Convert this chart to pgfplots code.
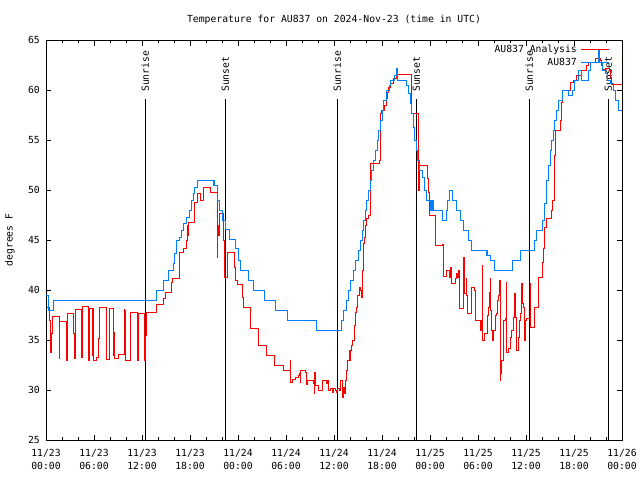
\documentclass[border=0pt]{standalone}
\usepackage{pgfplots}
\pgfplotsset{compat=1.18}
\usepackage{fontspec}
\setmainfont{DejaVu Sans Mono}
\definecolor{obsred}{RGB}{255,0,0}
\definecolor{anablue}{RGB}{0,128,255}
\newcommand{\gfont}{\fontsize{9.8}{13}\selectfont}

\pgfplotstableread{
h v
0.15 38.3
0.45 37.0
0.6 33.8
0.65 35.7
0.8 37.4
1.65 33.2
1.7 36.9
2.55 33.0
2.65 35.3
2.75 37.7
3.5 35.7
3.55 33.2
3.65 38.1
4.5 33.3
4.55 38.4
5.3 35.8
5.35 33.0
5.45 38.2
5.8 33.5
5.85 38.2
5.9 33.0
6.3 33.3
6.6 35.2
6.75 38.3
7.6 33.1
7.9 35.2
8.0 38.2
8.5 33.5
8.55 35.8
8.6 33.2
9.1 33.6
9.8 38.1
9.85 34.0
9.9 38.0
9.95 33.0
10.6 37.8
11.5 33.0
11.55 37.7
12.3 33.0
12.45 35.5
12.6 37.8
13.8 38.6
14.7 39.2
14.9 39.8
15.7 40.8
15.8 41.2
16.75 43.8
17.2 44.2
17.6 45.0
17.65 46.5
17.7 45.5
17.8 46.8
18.6 48.8
19.0 49.7
19.3 49.0
19.67 50.3
20.6 49.8
21.4 43.3
21.46 46.5
21.58 45.5
21.7 47.7
22.25 45.0
22.375 41.3
22.67 43.8
23.54 43.3
23.6 42.3
23.75 41.0
23.92 40.6
24.54 39.3
24.67 38.3
25.5 36.2
26.6 34.5
27.58 33.5
28.5 32.5
29.67 32.0
30.5 33.0
30.58 30.8
30.83 31.1
31.125 31.3
31.54 31.5
31.67 31.7
31.75 30.8
31.83 32.0
32.375 31.8
32.5 30.6
32.67 31.0
33.42 30.7
33.54 29.7
33.6 31.8
33.71 30.5
34.04 30.0
34.54 31.0
35.08 30.7
35.2 31.0
35.29 30.0
35.58 30.2
35.83 29.8
35.92 30.2
36.125 30.0
36.33 29.8
36.46 30.2
36.67 30.0
36.83 31.0
37.0 29.3
37.17 30.3
37.29 29.7
37.46 31.0
37.58 32.0
37.67 33.0
37.875 34.0
38.0 33.0
38.08 34.0
38.2 34.5
38.33 35.0
38.5 36.5
38.625 37.8
38.83 38.3
38.96 39.5
39.125 40.3
39.25 40.0
39.46 39.3
39.58 42.0
39.67 44.7
39.79 45.3
39.96 46.5
40.08 47.2
40.3 47.5
40.6 52.7
41.67 53.0
41.75 57.7
41.96 58.0
42.29 58.5
42.5 59.2
42.67 59.8
42.79 60.3
43.0 60.7
43.42 61.2
43.83 61.6
45.7 57.7
46.6 50.0
46.7 52.5
47.67 51.2
47.79 49.8
47.92 47.5
48.71 44.5
49.58 44.6
49.67 41.4
50.08 42.0
50.42 41.3
50.58 42.3
50.67 41.3
50.71 40.7
51.125 41.2
51.33 41.7
51.46 41.3
51.54 42.0
51.625 40.5
51.71 38.2
52.17 43.3
52.25 39.7
52.5 41.2
52.58 39.5
52.67 37.7
53.21 40.3
53.54 40.0
53.67 37.0
54.25 36.0
54.42 37.0
54.55 42.5
54.62 35.0
54.75 35.7
55.17 37.5
55.29 38.3
55.42 39.8
55.5 41.2
55.58 38.0
55.71 36.0
55.83 35.0
55.92 36.0
56.125 37.5
56.33 37.7
56.46 39.0
56.54 39.5
56.67 41.0
56.75 31.0
56.83 31.7
56.96 33.0
57.17 37.0
57.375 37.2
57.55 40.8
57.62 33.8
57.83 34.2
58.0 35.3
58.2 36.0
58.42 37.3
58.54 39.7
58.7 37.3
58.83 34.0
59.0 35.3
59.125 37.0
59.25 37.7
59.375 38.3
59.46 40.7
59.58 38.7
59.67 38.3
59.79 35.0
59.875 37.0
60.08 37.2
60.5 40.7
60.55 36.3
61.04 38.3
61.54 41.3
62.04 42.8
62.17 44.2
62.3 46.3
62.58 47.2
63.2 48.0
63.33 49.0
63.5 53.5
63.625 56.0
64.25 57.0
64.46 58.8
64.58 60.0
65.5 60.8
65.92 61.0
66.33 61.5
66.96 62.0
67.58 62.5
67.79 62.8
68.625 63.2
69.25 63.0
69.46 62.5
69.6 62.1
69.875 62.2
70.42 62.0
70.58 61.3
70.71 60.6
71.96 60.6
}\redtab

\pgfplotstableread{
h v
0 39.5
0.3 38.0
1.0 39.0
13.8 40
14.7 41
15.3 42
15.9 42.7
16.1 43.7
16.3 45
16.75 45.3
17.0 46
17.2 46.7
17.6 47.3
18.0 48
18.2 49
18.4 49.7
18.6 50.3
19.0 51
20.9 50.5
21.0 51
21.1 50.5
21.5 49
21.75 48
22.1 47
22.5 46.1
22.9 45.1
23.75 44.2
24.1 43
24.3 42
25.3 41
25.9 40
27.3 39
28.7 38
30.2 37
33.8 36
36.9 37
37.2 38
37.5 39
37.8 40
38.1 41
38.4 42
38.7 43
39.0 44
39.3 45
39.5 46
39.7 47
39.9 48
40.1 49
40.3 50
40.5 51
40.7 52
40.9 53
41.2 54
41.4 55
41.6 56
41.8 57
42.0 58
42.2 59
42.6 60
42.9 60.5
43.1 61
43.5 61.5
43.75 62.2
43.9 61
45.0 60.5
45.3 59.7
45.5 58.7
45.7 57.7
45.9 56.3
46.1 55
46.25 54
46.4 53
46.7 52
47.0 51.3
47.3 50
47.5 49
48.0 48
48.1 49
48.2 48
48.3 49
48.4 48
49.5 47
50.1 48
50.2 49
50.4 50
50.8 49
51.25 48
51.75 47
52.2 46
52.8 45
53.2 44
55.1 43.5
55.15 44
55.2 43.5
55.5 43
56.0 42
58.3 43
59.25 44
61.0 45
61.3 46
62.0 47
62.25 48.7
62.6 51
62.8 52.5
63.0 54
63.2 55
63.4 56
63.6 57
63.8 58
64.0 59
64.5 60
65.3 59.5
65.8 60
66.1 61
66.5 62
66.96 61
67.8 62
68.0 62.8
69.0 64
69.15 62.8
69.5 62
69.9 61.7
70.2 61
70.5 60.7
70.9 60
71.2 59
71.5 58
71.96 58
}\bluetab

\begin{document}
\begin{tikzpicture}
\useasboundingbox (-46bp,-40bp) rectangle (594bp,440bp);
\begin{axis}[
  at={(0,0)}, anchor=south west,
  scale only axis, width=576bp, height=400bp,
  xmin=0, xmax=72, ymin=25, ymax=65,
  xtick={0,6,...,72},
  xticklabels={{11/23\\00:00},{11/23\\06:00},{11/23\\12:00},{11/23\\18:00},
               {11/24\\00:00},{11/24\\06:00},{11/24\\12:00},{11/24\\18:00},
               {11/25\\00:00},{11/25\\06:00},{11/25\\12:00},{11/25\\18:00},
               {11/26\\00:00}},
  minor x tick num=2,
  ytick={25,30,...,65},
  yticklabels={25,30,35,40,45,50,55,60,65},
  tick align=inside,
  major tick length=5.5bp, minor tick length=3bp,
  tick style={black, line width=0.8bp},
  axis line style={line width=0.9bp},
  every tick label/.append style={font=\gfont, inner sep=0pt},
  xticklabel style={align=center, anchor=north, yshift=-9bp},
  yticklabel style={anchor=east, xshift=-6bp},
  title={Temperature for AU837 on 2024-Nov-23 (time in UTC)},
  every axis title shift=0pt,
  title style={at={(0.5,1)}, anchor=center, yshift=20bp, font=\gfont, inner sep=0pt},
  legend style={draw=none, fill=none, at={(1,1)}, anchor=north east,
    xshift=-12bp, yshift=-4bp, inner sep=0pt, font=\gfont,
    nodes={inner sep=1bp, text height=7.5bp, text depth=2bp},
    row sep=1bp, column sep=3bp},
  legend cell align=right,
  legend plot pos=right,
  legend image code/.code={\draw[#1, line width=1bp] (0bp,0bp) -- (28bp,0bp);},
]
\addplot[black, line width=0.8bp, forget plot] coordinates {(12.41,25) (12.41,59.1)};
\addplot[black, line width=0.8bp, forget plot] coordinates {(22.41,25) (22.41,59.1)};
\addplot[black, line width=0.8bp, forget plot] coordinates {(36.41,25) (36.41,59.1)};
\addplot[black, line width=0.8bp, forget plot] coordinates {(46.29,25) (46.29,59.1)};
\addplot[black, line width=0.8bp, forget plot] coordinates {(60.41,25) (60.41,59.1)};
\addplot[black, line width=0.8bp, forget plot] coordinates {(70.29,25) (70.29,59.1)};
\node[rotate=90, anchor=west, inner sep=0pt, font=\gfont] at (axis cs:12.41,59.8) {Sunrise};
\node[rotate=90, anchor=west, inner sep=0pt, font=\gfont] at (axis cs:22.41,59.8) {Sunset};
\node[rotate=90, anchor=west, inner sep=0pt, font=\gfont] at (axis cs:36.41,59.8) {Sunrise};
\node[rotate=90, anchor=west, inner sep=0pt, font=\gfont] at (axis cs:46.29,59.8) {Sunset};
\node[rotate=90, anchor=west, inner sep=0pt, font=\gfont] at (axis cs:60.41,59.8) {Sunrise};
\node[rotate=90, anchor=west, inner sep=0pt, font=\gfont] at (axis cs:70.29,59.8) {Sunset};
\addplot[obsred, line width=1bp, const plot] table[x=h, y=v] {\redtab};
\addlegendentry{AU837 Analysis}
\addplot[anablue, line width=1bp, const plot] table[x=h, y=v] {\bluetab};
\addlegendentry{AU837}
\end{axis}
\node[rotate=90, font=\gfont, inner sep=0pt] at (-36bp,200bp) {degrees F};
\end{tikzpicture}
\end{document}
